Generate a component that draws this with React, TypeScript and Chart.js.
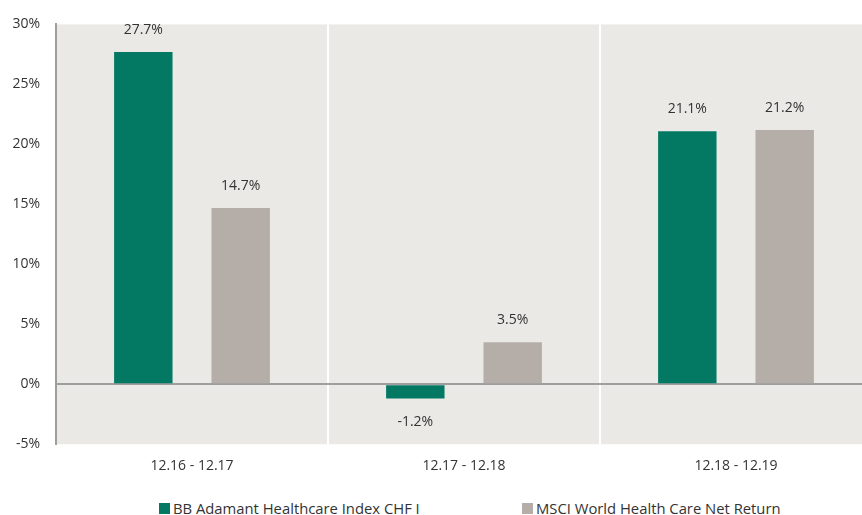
import React, { useEffect, useRef } from "react";
import { Chart, registerables } from "chart.js";

Chart.register(...registerables);

const categories = ["12.16 - 12.17", "12.17 - 12.18", "12.18 - 12.19"];
const fundName = "BB Adamant Healthcare Index CHF I";
const benchName = "MSCI World Health Care Net Return";
const fundValues = [27.7, -1.2, 21.1];
const benchValues = [14.7, 3.5, 21.2];
const yTicks = [-5, 0, 5, 10, 15, 20, 25, 30];

const GREEN = "#037964";
const GREY = "#b5aea8";
const PLOT_BG = "#ebe9e5";
const FONT = "'Open Sans', 'Noto Sans', sans-serif";

const bgPlugin = {
  id: "plotBg",
  beforeDraw(chart: any) {
    const { ctx, chartArea } = chart;
    ctx.save();
    ctx.fillStyle = PLOT_BG;
    ctx.fillRect(chartArea.left, chartArea.top, chartArea.right - chartArea.left, chartArea.bottom - chartArea.top);
    ctx.restore();
  },
};

const labelPlugin = {
  id: "valueLabels",
  afterDatasetsDraw(chart: any) {
    const { ctx } = chart;
    ctx.save();
    ctx.font = `14px ${FONT}`;
    ctx.fillStyle = "#333333";
    ctx.textAlign = "center";
    ctx.textBaseline = "middle";
    chart.data.datasets.forEach((ds: any, di: number) => {
      const meta = chart.getDatasetMeta(di);
      meta.data.forEach((bar: any, i: number) => {
        const v = ds.data[i];
        const txt = v.toFixed(1) + "%";
        const y = v >= 0 ? bar.y - 22 : bar.y + 23;
        ctx.fillText(txt, bar.x, y);
      });
    });
    ctx.restore();
  },
};

export default function App() {
  const ref = useRef<HTMLCanvasElement | null>(null);

  useEffect(() => {
    document.body.style.margin = "0";
    if (!ref.current) return;
    const chart = new Chart(ref.current, {
      type: "bar",
      data: {
        labels: categories,
        datasets: [
          { label: fundName, data: fundValues, backgroundColor: GREEN, categoryPercentage: 0.716, barPercentage: 0.6 },
          { label: benchName, data: benchValues, backgroundColor: GREY, categoryPercentage: 0.716, barPercentage: 0.6 },
        ],
      },
      options: {
        animation: false,
        responsive: false,
        maintainAspectRatio: false,
        layout: { padding: { top: 10, right: 0, bottom: 0, left: 0 } },
        plugins: {
          legend: { display: false },
          tooltip: { enabled: false },
        },
        scales: {
          x: {
            offset: true,
            grid: {
              offset: true,
              drawTicks: false,
              color: (c: any) => (c.index === 0 ? "rgba(0,0,0,0)" : "#ffffff"),
              lineWidth: 2,
            },
            border: { display: false },
            ticks: { color: "#333333", font: { family: FONT, size: 14 }, padding: 13 },
          },
          y: {
            min: -5,
            max: 30,
            afterBuildTicks: (axis: any) => {
              axis.ticks = yTicks.map((v) => ({ value: v }));
            },
            afterFit: (axis: any) => {
              axis.width = 56;
            },
            grid: {
              drawTicks: false,
              color: (c: any) => (c.tick && c.tick.value === 0 ? "#9e9e9e" : "rgba(0,0,0,0)"),
              lineWidth: 2,
            },
            border: { display: true, color: "#9e9e9e", width: 2 },
            ticks: {
              color: "#333333",
              font: { family: FONT, size: 14 },
              padding: 16,
              callback: (v: any) => v + "%",
            },
          },
        },
      },
      plugins: [bgPlugin, labelPlugin],
    });
    return () => chart.destroy();
  }, []);

  const legendItem = (color: string, text: string, left: number) => (
    <div style={{ position: "absolute", left, top: 498, display: "flex", alignItems: "center", whiteSpace: "nowrap" }}>
      <span style={{ width: 11, height: 11, background: color, display: "inline-block", marginRight: 3 }} />
      <span>{text}</span>
    </div>
  );

  return (
    <div
      style={{
        position: "relative",
        width: 862,
        height: 515,
        overflow: "hidden",
        background: "#fff",
        fontFamily: FONT,
        fontSize: 14.8,
        color: "#333333",
        lineHeight: "20px",
      }}
    >
      <canvas ref={ref} width={872} height={487} style={{ display: "block", width: 872, height: 487 }} />
      {legendItem(GREEN, fundName, 159)}
      {legendItem(GREY, benchName, 522)}
    </div>
  );
}
